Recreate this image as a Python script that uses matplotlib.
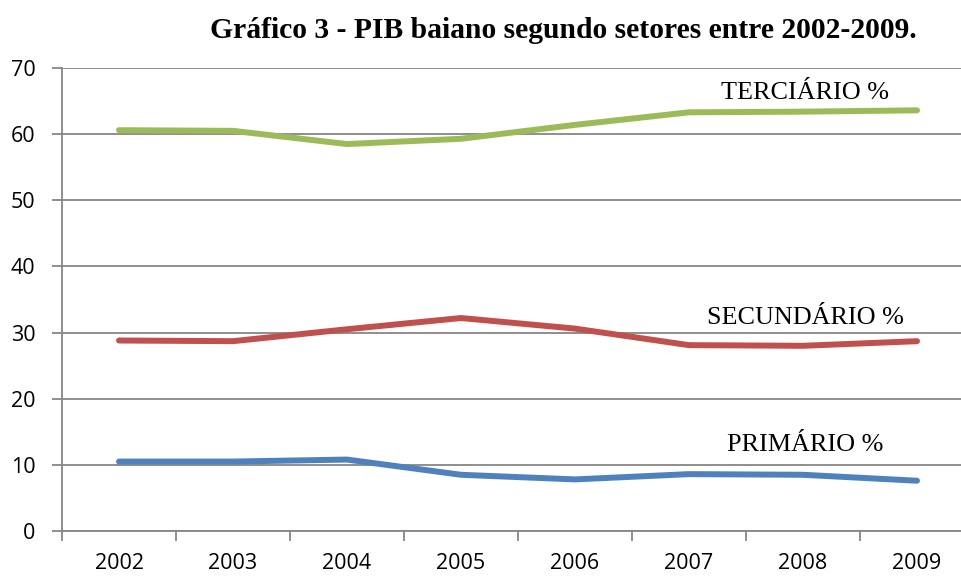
import matplotlib
matplotlib.use("Agg")
import matplotlib.pyplot as plt
from matplotlib.ticker import FixedLocator

years = ["2002", "2003", "2004", "2005", "2006", "2007", "2008", "2009"]
terciario = [60.6, 60.5, 58.5, 59.3, 61.4, 63.3, 63.4, 63.6]
secundario = [28.8, 28.7, 30.5, 32.2, 30.6, 28.1, 28.0, 28.7]
primario = [10.5, 10.5, 10.8, 8.5, 7.8, 8.6, 8.5, 7.6]

fig = plt.figure(figsize=(9.61, 5.77), dpi=100)
ax = fig.add_axes([62/961, 1-531/577, 1-62/961, (531-68)/577])

x = list(range(len(years)))
lw = 4.3
ax.plot(x, terciario, color="#9BBB59", lw=lw, solid_capstyle="round", solid_joinstyle="round", zorder=3)
ax.plot(x, secundario, color="#C0504D", lw=lw, solid_capstyle="round", solid_joinstyle="round", zorder=3)
ax.plot(x, primario, color="#4F81BD", lw=lw, solid_capstyle="round", solid_joinstyle="round", zorder=3)

ax.set_ylim(0, 70)
ax.set_yticks(range(0, 71, 10))
ax.set_xlim(-0.5, (961-62)/114 - 0.5)
ax.set_xticks(x)
ax.set_xticklabels(years)
ax.xaxis.set_minor_locator(FixedLocator([i - 0.5 for i in range(len(years) + 1)]))

ax.grid(axis="y", color="#868686", lw=1.3)
ax.set_axisbelow(True)
for s in ["top", "right"]:
    ax.spines[s].set_visible(False)
for s in ["left", "bottom"]:
    ax.spines[s].set_color("#868686")
    ax.spines[s].set_linewidth(1.3)

ax.tick_params(axis="x", which="major", length=0, pad=16)
ax.tick_params(axis="x", which="minor", length=7, color="#868686", width=1.3, direction="out")
ax.tick_params(axis="y", length=7, color="#868686", width=1.3, pad=12)
for lab in ax.get_xticklabels() + ax.get_yticklabels():
    lab.set_fontfamily("Open Sans")
    lab.set_fontsize(15.5)

serif = "Liberation Serif"
fig.text(563/961, 1-31/577, "Gráfico 3 - PIB baiano segundo setores entre 2002-2009.",
         ha="center", va="center", fontfamily=serif, fontweight="bold", fontsize=21.3)
ax.text(6.02, 66.2, "TERCIÁRIO %", ha="center", va="center", fontfamily=serif, fontsize=18.8)
ax.text(6.02, 32.2, "SECUNDÁRIO %", ha="center", va="center", fontfamily=serif, fontsize=18.8)
ax.text(6.02, 13.0, "PRIMÁRIO %", ha="center", va="center", fontfamily=serif, fontsize=18.8)

fig.savefig("out.png", dpi=100)
